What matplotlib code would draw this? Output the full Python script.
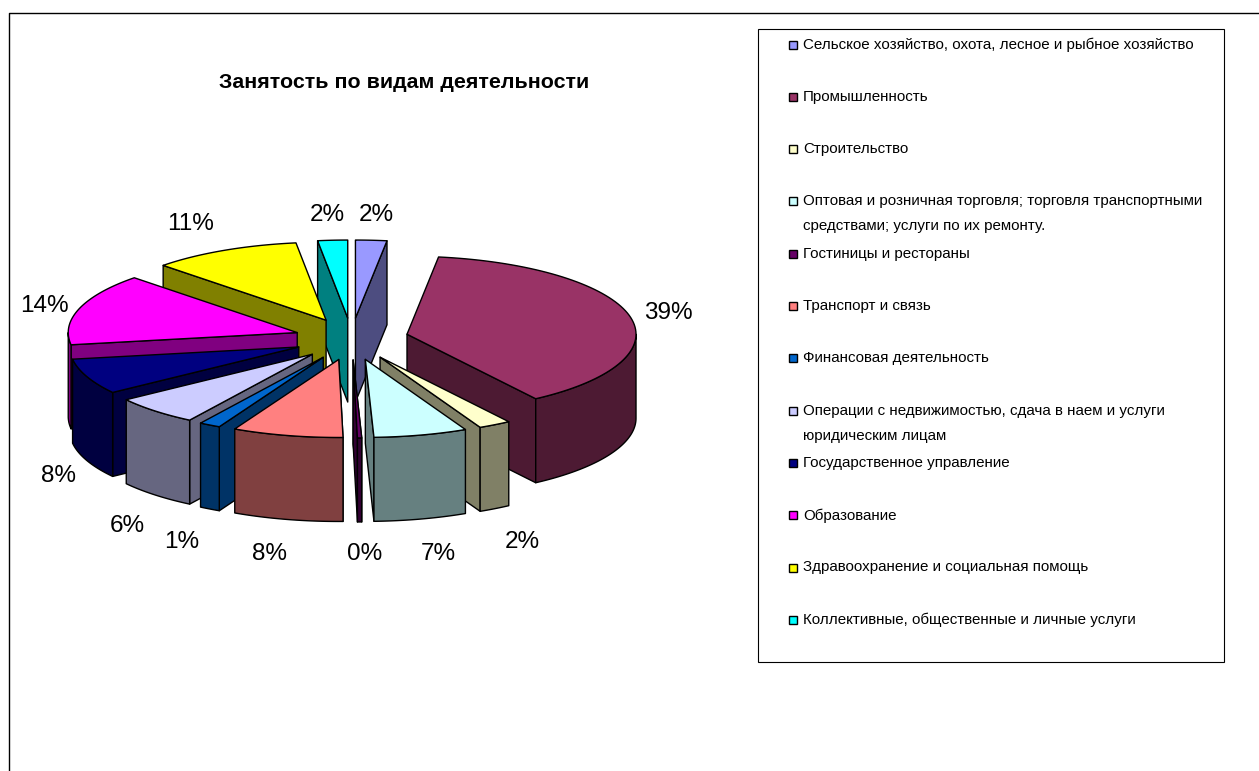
import numpy as np
import matplotlib
matplotlib.use("Agg")
import matplotlib.pyplot as plt
from matplotlib.patches import Polygon, Rectangle

# --- data ---
categories = [
    "Сельское хозяйство, охота, лесное и рыбное хозяйство",
    "Промышленность",
    "Строительство",
    "Оптовая и розничная торговля; торговля транспортными\nсредствами; услуги по их ремонту.",
    "Гостиницы и рестораны",
    "Транспорт и связь",
    "Финансовая деятельность",
    "Операции с недвижимостью, сдача в наем и услуги\nюридическим лицам",
    "Государственное управление",
    "Образование",
    "Здравоохранение и социальная помощь",
    "Коллективные, общественные и личные услуги",
]
values = [2.2, 38.3, 2.3, 6.6, 0.3, 7.8, 1.5, 6.1, 7.4, 14.9, 10.5, 2.1]
pct_labels = ["2%", "39%", "2%", "7%", "0%", "8%", "1%", "6%", "8%", "14%", "11%", "2%"]
colors = ["#9999FF", "#993366", "#FFFFCC", "#CCFFFF", "#660066", "#FF8080",
          "#0066CC", "#CCCCFF", "#000080", "#FF00FF", "#FFFF00", "#00FFFF"]

# --- layout (pixels) ---
W, H = 1259, 771
CX, CY = 351.5, 339.0
RX, RY = 229.0, 78.0
DEPTH = 84.0
EX, EY = 57.0, 21.0
LABEL_XY = [(376, 213), (668, 311), (522, 540), (438, 552), (365, 552), (270, 552),
            (182, 540), (127, 524), (59, 474), (44, 304), (191, 222), (327, 213)]

FONT = "Liberation Sans"
PCT_SIZE = 17.5
LEG_SIZE = 10.9

fig = plt.figure(figsize=(W / 100, H / 100), dpi=100)
ax = fig.add_axes([0, 0, 1, 1])
ax.set_xlim(0, W)
ax.set_ylim(H, 0)
ax.axis("off")


def shade(c):
    r, g, b = matplotlib.colors.to_rgb(c)
    return (r * 0.5, g * 0.5, b * 0.5)


def poly(pts, fc, z):
    ax.add_patch(Polygon(pts, closed=True, fc=fc, ec="black", lw=1.0,
                         joinstyle="round", zorder=z))


total = sum(values)
edges = np.cumsum([0] + values) / total * 2 * np.pi
slices = []
for i in range(len(values)):
    a0, a1 = edges[i], edges[i + 1]
    m = (a0 + a1) / 2
    ox = CX + EX * np.sin(m)
    oy = CY - EY * np.cos(m)
    slices.append((np.cos(m), i, a0, a1, ox, oy))

z = 2
for _, i, a0, a1, ox, oy in sorted(slices, key=lambda s: -s[0]):
    side = shade(colors[i])
    ang = np.linspace(a0, a1, 80)
    px = ox + RX * np.sin(ang)
    py = oy - RY * np.cos(ang)
    # radial walls that face the viewer
    for a, faces in ((a0, np.sin(a0) < 0.05 and np.cos(a0) < 0 or np.sin(a0) < 0),
                     (a1, np.sin(a1) > 0)):
        if faces:
            ex = ox + RX * np.sin(a)
            ey = oy - RY * np.cos(a)
            poly([(ox, oy), (ex, ey), (ex, ey + DEPTH), (ox, oy + DEPTH)], side, z)
            z += 1
    # outer rim on the front half
    lo, hi = max(a0, np.pi / 2), min(a1, 3 * np.pi / 2)
    if hi > lo:
        rim = np.linspace(lo, hi, 80)
        rx = ox + RX * np.sin(rim)
        ry = oy - RY * np.cos(rim)
        pts = list(zip(rx, ry)) + list(zip(rx[::-1], ry[::-1] + DEPTH))
        poly(pts, side, z)
        z += 1
    # top face
    poly([(ox, oy)] + list(zip(px, py)), colors[i], z)
    z += 1

for (x, y), t in zip(LABEL_XY, pct_labels):
    ax.text(x, y + 2, t, ha="center", va="center", fontsize=PCT_SIZE, family=FONT,
            color="black", zorder=200)

ax.text(404, 82, "Занятость по видам деятельности", ha="center", va="center",
        fontsize=15.4, family=FONT, fontweight="bold", zorder=200)

# chart frame
ax.plot([9, 9, W], [H, 12.5, 12.5], color="black", lw=1.0, zorder=1)

# legend
ax.add_patch(Rectangle((758, 29), 466, 633, fc="white", ec="black", lw=0.8, zorder=1))
for k, (name, c) in enumerate(zip(categories, colors)):
    y = 44.5 + k * 52.3
    ax.add_patch(Rectangle((789, y - 4), 8, 8, fc=c, ec="black", lw=1.0, zorder=3))
    ax.text(803, y - 7, name, ha="left", va="top", fontsize=LEG_SIZE, family=FONT,
            linespacing=2.0, zorder=3)

fig.savefig("out.png", dpi=100, facecolor="white")
